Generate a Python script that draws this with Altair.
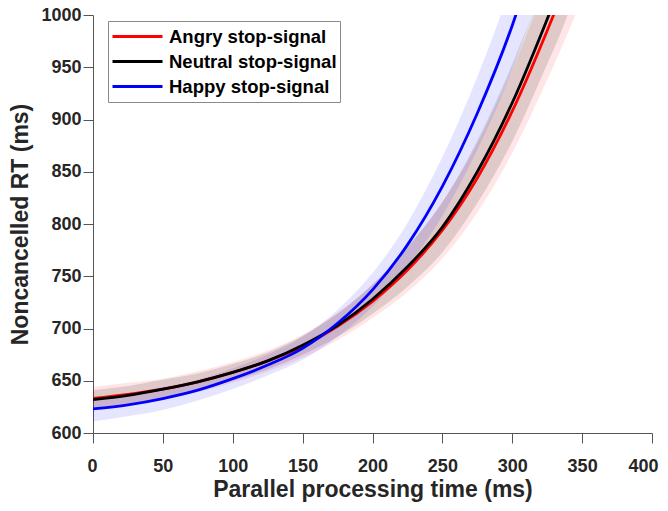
import altair as alt
import pandas as pd

series_names = ["Angry stop-signal", "Neutral stop-signal", "Happy stop-signal"]
series_colors = ["#ff0000", "#000000", "#0000ff"]
band_opacity = [0.10, 0.12, 0.10]

x_ticks = [0, 50, 100, 150, 200, 250, 300, 350, 400]
y_ticks = [600, 650, 700, 750, 800, 850, 900, 950, 1000]

angry_x = [0, 25, 50, 75, 100, 125, 150, 175, 200, 225, 250, 275, 300, 325, 335, 345, 355]
angry_rt = [633, 637, 642, 649, 658, 669, 683, 702, 726, 756, 794, 844, 908, 985, 1018, 1052, 1090]
angry_lo = [622, 626, 632, 639, 648, 659, 672, 689, 710, 735, 767, 811, 868, 938, 968, 1000, 1035]
angry_hi = [644, 648, 652, 659, 668, 679, 694, 715, 742, 777, 821, 877, 948, 1032, 1068, 1104, 1145]

neutral_x = [0, 25, 50, 75, 100, 125, 150, 175, 200, 225, 250, 275, 300, 325, 335, 345, 355]
neutral_rt = [632, 636, 642, 649, 658, 669, 684, 703, 728, 759, 797, 850, 916, 996, 1030, 1069, 1111]
neutral_lo = [623, 627, 633, 641, 650, 661, 675, 692, 714, 740, 773, 820, 879, 953, 984, 1020, 1059]
neutral_hi = [641, 645, 651, 657, 666, 677, 693, 714, 742, 778, 821, 880, 953, 1039, 1076, 1118, 1163]

happy_x = [0, 25, 50, 75, 100, 125, 150, 175, 200, 225, 250, 275, 300, 310, 320]
happy_rt = [623, 627, 633, 641, 652, 665, 681, 705, 737, 780, 836, 906, 990, 1030, 1069]
happy_lo = [611, 616, 622, 631, 642, 655, 670, 692, 721, 759, 808, 871, 948, 985, 1022]
happy_hi = [635, 638, 644, 651, 662, 675, 692, 718, 753, 801, 864, 941, 1032, 1075, 1116]

rows = []
for name, xs, rt, lo, hi in [
    (series_names[0], angry_x, angry_rt, angry_lo, angry_hi),
    (series_names[1], neutral_x, neutral_rt, neutral_lo, neutral_hi),
    (series_names[2], happy_x, happy_rt, happy_lo, happy_hi),
]:
    for a, b, c, d in zip(xs, rt, lo, hi):
        rows.append({"series": name, "t": a, "rt": b, "lo": c, "hi": d})
df = pd.DataFrame(rows)

FONT = "Liberation Sans"
TXT = "#262626"

x_enc = alt.X(
    "t:Q",
    scale=alt.Scale(domain=[0, 400], nice=False, zero=False),
    axis=alt.Axis(
        values=x_ticks, title="Parallel processing time (ms)",
        labelFlush=True, labelFlushOffset=6,
        tickSize=10, labelPadding=14, titlePadding=3, grid=False, format="d",
    ),
)
y_scale = alt.Scale(domain=[600, 1000], nice=False, zero=False)
y_axis = alt.Axis(
    values=y_ticks, title="Noncancelled RT (ms)", labelFlush=False,
    tickSize=10, labelPadding=2, titlePadding=8, grid=False, format="d",
)

base = alt.Chart(df)

band_layers = []
for name, col, op in zip(series_names, series_colors, band_opacity):
    band_layers.append(
        base.transform_filter(alt.datum.series == name)
        .mark_area(clip=True, color=col, fillOpacity=op, interpolate="monotone")
        .encode(
            x=x_enc,
            y=alt.Y("lo:Q", scale=y_scale, axis=y_axis),
            y2="hi:Q",
        )
    )

lines = base.mark_line(clip=True, strokeWidth=2.8, interpolate="monotone").encode(
    x=x_enc,
    y=alt.Y("rt:Q", scale=y_scale, axis=y_axis),
    color=alt.Color(
        "series:N",
        scale=alt.Scale(domain=series_names, range=series_colors),
        legend=alt.Legend(
            title=None, orient="none", legendX=15, legendY=6,
            symbolType="stroke", symbolSize=2500, symbolStrokeWidth=3,
            clipHeight=25, rowPadding=0, padding=3, labelOffset=5,
            labelFont=FONT, labelFontSize=18.5, labelFontWeight="bold",
            labelColor="#000000", labelLimit=400,
            strokeColor="#8a8a8a", fillColor="white",
        ),
    ),
)

chart = (
    alt.layer(*band_layers, lines)
    .properties(
        width=559, height=418,
        autosize=alt.AutoSizeParams(type="none"),
        padding={"left": 85, "top": 7, "right": 8, "bottom": 70},
    )
    .configure_view(stroke=None)
    .configure_axis(
        labelFont=FONT, labelFontSize=18, labelFontWeight="bold", labelColor=TXT,
        titleFont=FONT, titleFontSize=23, titleFontWeight="bold", titleColor=TXT,
        domainColor="#555555", tickColor="#555555", domainWidth=1, tickWidth=1,
    )
)

chart.save("out.html", embed_options={"renderer": "svg", "actions": False})
